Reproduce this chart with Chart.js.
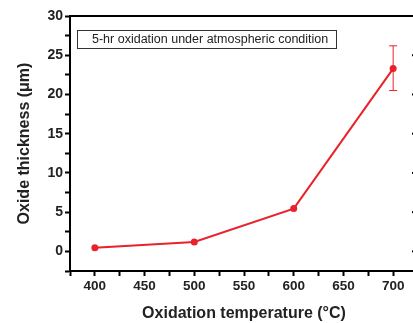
<!DOCTYPE html>
<html>
<head>
<meta charset="utf-8">
<script src="https://cdn.jsdelivr.net/npm/chart.js@4"></script>
<style>
  html, body { margin: 0; padding: 0; background: #fff; overflow: hidden; }
  .wrap { width: 413px; height: 323px; overflow: hidden; position: relative; }
  .wrap canvas { position: absolute; left: 0; top: 0; }
</style>
</head>
<body>
<div class="wrap"><canvas id="chart" width="430" height="323"></canvas></div>
<script>
// データ
const temperatures = [400, 500, 600, 700];
const thickness = [0.45, 1.2, 5.45, 23.3];
const errLow = [null, null, null, 20.5];
const errHigh = [null, null, null, 26.2];
const boxLabel = '5-hr oxidation under atmospheric condition';

const red = '#e8222c';
const fontFamily = '"Liberation Sans", Arial, sans-serif';

// 枠線・右側の目盛り・誤差棒・凡例ボックス
const framePlugin = {
    id: 'frame',
    afterDatasetsDraw(chart) {
        const { ctx, chartArea: a, scales } = chart;
        const y = scales.y;
        ctx.save();
        // 誤差棒
        ctx.strokeStyle = red;
        ctx.lineWidth = 1;
        temperatures.forEach((t, i) => {
            if (errLow[i] == null) return;
            const px = scales.x.getPixelForValue(t);
            const p1 = y.getPixelForValue(errLow[i]);
            const p2 = y.getPixelForValue(errHigh[i]);
            ctx.beginPath();
            ctx.moveTo(px, p1); ctx.lineTo(px, p2);
            ctx.moveTo(px - 4, p1); ctx.lineTo(px + 4, p1);
            ctx.moveTo(px - 4, p2); ctx.lineTo(px + 4, p2);
            ctx.stroke();
        });
        // 上と右の枠
        ctx.strokeStyle = '#000';
        ctx.lineWidth = 2;
        ctx.beginPath();
        ctx.moveTo(a.left, a.top); ctx.lineTo(a.right, a.top); ctx.lineTo(a.right, a.bottom);
        ctx.stroke();
        // 右側の内向き目盛り
        y.ticks.forEach(tk => {
            const py = y.getPixelForValue(tk.value);
            const len = tk.value % 5 === 0 ? 6 : 3;
            ctx.beginPath();
            ctx.moveTo(a.right - len, py); ctx.lineTo(a.right, py);
            ctx.stroke();
        });
        // 凡例ボックス
        ctx.lineWidth = 1;
        ctx.strokeStyle = '#333';
        ctx.strokeRect(77.5, 30.5, 259, 18);
        ctx.fillStyle = '#222';
        ctx.font = '12.5px ' + fontFamily;
        ctx.textBaseline = 'middle';
        ctx.fillText(boxLabel, 92, 40);
        ctx.restore();
    }
};

new Chart(document.getElementById('chart'), {
    type: 'line',
    data: {
        datasets: [{
            data: temperatures.map((t, i) => ({ x: t, y: thickness[i] })),
            borderColor: red,
            backgroundColor: red,
            borderWidth: 2,
            pointRadius: 3.5,
            pointBorderWidth: 0,
            tension: 0
        }]
    },
    options: {
        responsive: false,
        animation: false,
        layout: { padding: { top: 16, right: 12, left: 0, bottom: 0 } },
        plugins: { legend: { display: false }, tooltip: { enabled: false } },
        scales: {
            x: {
                type: 'linear',
                min: 375,
                max: 725,
                afterFit: s => { s.height = 52; },
                ticks: {
                    stepSize: 25,
                    autoSkip: false,
                    maxRotation: 0,
                    padding: 2,
                    color: '#222',
                    font: { family: fontFamily, size: 13.5, weight: 'bold' },
                    callback: v => (v % 50 === 0 ? v : '')
                },
                grid: { drawOnChartArea: false, color: '#000', tickLength: 5, tickWidth: 2 },
                border: { color: '#000', width: 2 },
                title: {
                    display: true,
                    text: 'Oxidation temperature (°C)',
                    color: '#222',
                    padding: { top: 0, bottom: 0 },
                    font: { family: fontFamily, size: 16, weight: 'bold' }
                }
            },
            y: {
                min: -2.5,
                max: 30,
                afterFit: s => { s.width = 70; },
                ticks: {
                    stepSize: 2.5,
                    autoSkip: false,
                    padding: 2,
                    color: '#222',
                    font: { family: fontFamily, size: 14, weight: 'bold' },
                    callback: v => (v % 5 === 0 ? v : '')
                },
                grid: { drawOnChartArea: false, color: '#000', tickLength: 5, tickWidth: 2 },
                border: { color: '#000', width: 2 },
                title: {
                    display: true,
                    text: 'Oxide thickness (μm)',
                    color: '#222',
                    padding: { top: 15, bottom: 0 },
                    font: { family: fontFamily, size: 16, weight: 'bold' }
                }
            }
        }
    },
    plugins: [framePlugin]
});
</script>
</body>
</html>
